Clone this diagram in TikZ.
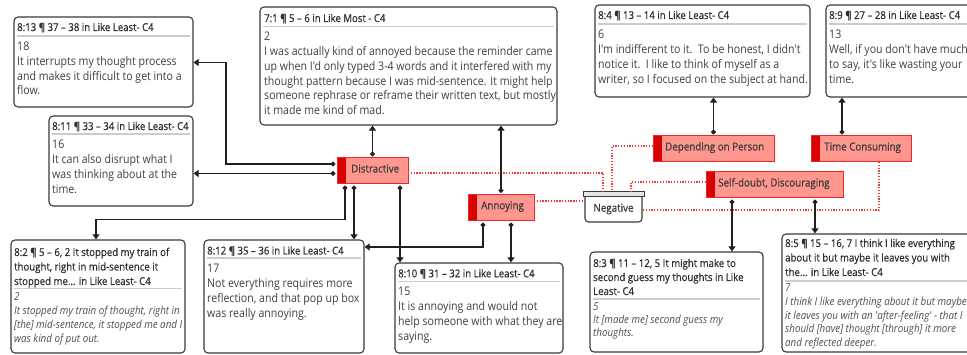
\documentclass[tikz,border=0pt]{standalone}
\usepackage{fontspec}
\setmainfont{Open Sans}[FakeStretch=0.89, Ligatures=TeXOff]
\newfontfamily\hdfont{Open Sans}[FakeStretch=0.89, FakeBold=0.6, Ligatures=TeXOff]
\usetikzlibrary{calc,arrows.meta}

\definecolor{boxline}{HTML}{3A3A3A}
\definecolor{sepline}{HTML}{CCCCCC}
\definecolor{bodytxt}{HTML}{404040}
\definecolor{hdtxt}{HTML}{303030}
\definecolor{quotetxt}{HTML}{4E4E4E}
\definecolor{codefill}{HTML}{FF978E}
\definecolor{codeline}{HTML}{E8282D}
\definecolor{codebar}{HTML}{D80000}
\definecolor{codetext}{HTML}{3C3C3C}
\definecolor{linkred}{HTML}{F03C3C}
\definecolor{capgray}{HTML}{E6E6E6}
\definecolor{connblack}{HTML}{202020}

% one text node per line, baselines evenly spaced
\newcommand\textlines[6]{%
  \foreach \t [count=\i] in {#6} {
    \node[#5] (#1-\i) at (#2,{#3+(\i-1)*#4}) {\t};
  }}
% grey rule under a quotation header, #2 below the top edge
\newcommand\qrule[2]{\draw[sepln] ($(#1.north west)+(3,#2)$) -- ($(#1.north east)+(-3,#2)$);}

\tikzset{
  qbox/.style={draw=boxline, line width=1.1pt, rounded corners=4pt, fill=white,
    inner sep=0pt, outer sep=0pt, anchor=north west},
  hd/.style={font=\hdfont\fontsize{10.8}{13}\selectfont, text=hdtxt, inner sep=0pt, anchor=base west},
  body/.style={font=\fontsize{11.9}{14}\selectfont, text=bodytxt, inner sep=0pt, anchor=base west},
  quote/.style={font=\itshape\fontsize{11}{13}\selectfont, text=quotetxt, inner sep=0pt, anchor=base west},
  sepln/.style={draw=sepline, line width=1.4pt},
  code/.style={rectangle, draw=codeline, line width=1pt, fill=codefill, inner sep=0pt,
    outer sep=0pt, anchor=north west, minimum height=26pt,
    path picture={\fill[codebar] (path picture bounding box.north west)
      rectangle ([xshift=9pt]path picture bounding box.south west);}},
  codetxt/.style={font=\hdfont\fontsize{11}{13}\selectfont, text=codetext, inner sep=0pt, anchor=base west},
  conn/.style={draw=connblack, line width=1.1pt, shorten >=0.6pt,
    {Circle[length=5pt,width=5pt]}-{Triangle[length=5pt,width=7pt]}},
  link/.style={draw=linkred, line width=1.1pt, dash pattern=on 1.3pt off 1.5pt},
}

\begin{document}
\begin{tikzpicture}[x=1pt,y=-1pt]
\useasboundingbox (0,0) rectangle (967,355);
\fill[white] (0,0) rectangle (967,355);
\clip (0,0) rectangle (967,355);

% ---------- quotation boxes ----------
\node[qbox, minimum width=179pt, minimum height=90pt] (qA) at (14,17) {};
\node[hd] (qA-h) at (17,31) {8:13 ¶ 37 – 38 in Like Least- C4};
\qrule{qA}{19}
\textlines{qA-b}{17}{50.5}{14.8}{body}{{18},{It interrupts my thought process},{and makes it difficult to get into a},{flow.}}

\node[qbox, minimum width=297pt, minimum height=118pt] (qB) at (260,7) {};
\node[hd] (qB-h) at (264,22) {7:1 ¶ 5 – 6 in Like Most - C4};
\qrule{qB}{19.5}
\textlines{qB-b}{264}{41}{14.7}{body}{{2},{I was actually kind of annoyed because the reminder came},{up when I'd only typed 3-4 words and it interfered with my},{thought pattern because I was mid-sentence. It might help},{someone rephrase or reframe their written text, but mostly},{it made me kind of mad.}}

\node[qbox, minimum width=215pt, minimum height=92pt] (qC) at (595,5) {};
\node[hd] (qC-h) at (598,19) {8:4 ¶ 13 – 14 in Like Least- C4};
\qrule{qC}{19}
\textlines{qC-b}{598}{39}{14.7}{body}{{6},{I'm indifferent to it.\ \ To be honest, I didn't},{notice it.\ \ I like to think of myself as a},{writer, so I focused on the subject at hand.}}

\node[qbox, minimum width=180pt, minimum height=92pt] (qD) at (826,5) {};
\node[hd] (qD-h) at (829,19) {8:9 ¶ 27 – 28 in Like Least- C4};
\qrule{qD}{19}
\textlines{qD-b}{829}{39}{14.7}{body}{{13},{Well, if you don't have much},{to say, it's like wasting your},{time.}}

\node[qbox, minimum width=144pt, minimum height=90pt] (qE) at (49,116) {};
\node[hd] (qE-h) at (52,130) {8:11 ¶ 33 – 34 in Like Least- C4};
\qrule{qE}{18}
\textlines{qE-b}{52}{149}{14.8}{body}{{16},{It can also disrupt what I},{was thinking about at the},{time.}}

\node[qbox, minimum width=174pt, minimum height=113pt] (qF) at (11,240) {};
\textlines{qF-h}{14}{256}{14.5}{hd}{{8:2 ¶ 5 – 6, 2 It stopped my train of},{thought, right in mid-sentence it},{stopped me.{}.{}. in Like Least- C4}}
\qrule{qF}{48.5}
\textlines{qF-b}{14}{301}{14}{quote}{{2},{It stopped my train of thought, right in},{[the] mid-sentence, it stopped me and I},{was kind of put out.}}

\node[qbox, minimum width=160pt, minimum height=113pt] (qG) at (204,240) {};
\node[hd] (qG-h) at (207,254.5) {8:12 ¶ 35 – 36 in Like Least- C4};
\qrule{qG}{18}
\textlines{qG-b}{207}{272.5}{14.9}{body}{{17},{Not everything requires more},{reflection, and that pop up box},{was really annoying.}}

\node[qbox, minimum width=168pt, minimum height=90pt] (qH) at (395,263) {};
\node[hd] (qH-h) at (398,277.3) {8:10 ¶ 31 – 32 in Like Least- C4};
\qrule{qH}{18.5}
\textlines{qH-b}{398}{296}{14.8}{body}{{15},{It is annoying and would not},{help someone with what they are},{saying.}}

\node[qbox, minimum width=173pt, minimum height=100pt] (qI) at (590,252) {};
\textlines{qI-h}{593}{267}{14}{hd}{{8:3 ¶ 11 – 12, 5 It might make to},{second guess my thoughts in Like},{Least- C4}}
\qrule{qI}{47}
\textlines{qI-b}{593}{311}{13}{quote}{{5},{It [made me] second guess my},{thoughts.}}

\node[qbox, minimum width=220pt, minimum height=118pt] (qJ) at (782,234) {};
\textlines{qJ-h}{785}{247}{14.5}{hd}{{8:5 ¶ 15 – 16, 7 I think I like everything},{about it but maybe it leaves you with},{the.{}.{}. in Like Least- C4}}
\qrule{qJ}{47}
\textlines{qJ-b}{785}{292}{13.6}{quote}{{7},{I think I like everything about it but maybe},{it leaves you with an 'after-feeling' - that I},{should [have] thought [through] it more},{and reflected deeper.}}

% ---------- codes ----------
\node[code, minimum width=71pt] (dist) at (337,158) {};
\node[codetxt] (dist-t) at ($(dist.west)+(14,1.5)$) {Distractive};
\node[code, minimum width=66pt, minimum height=26.5pt] (ann) at (468,194.5) {};
\node[codetxt] (ann-t) at ($(ann.west)+(13,1.5)$) {Annoying};
\node[code, minimum width=121pt] (dep) at (653,136) {};
\node[codetxt] (dep-t) at ($(dep.west)+(12,1.5)$) {Depending on Person};
\node[code, minimum width=100pt] (tc) at (811,136) {};
\node[codetxt] (tc-t) at ($(tc.west)+(13,1.5)$) {Time Consuming};
\node[code, minimum width=137pt] (sd) at (706,172) {};
\node[codetxt] (sd-t) at ($(sd.west)+(12,1.5)$) {Self-doubt, Discouraging};

% ---------- code group ----------
\node[minimum width=57pt, minimum height=26pt, inner sep=0pt, outer sep=0pt, anchor=north west,
  font=\hdfont\fontsize{11}{13}\selectfont, text=codetext] (neg) at (585,196) {Negative};
\draw[boxline, line width=1.1pt, rounded corners=3.5pt]
  (neg.north west) -- (neg.south west) -- (neg.south east) -- (neg.north east);
\node[draw=boxline, line width=0.9pt, fill=capgray, minimum width=61pt, minimum height=4.5pt,
  inner sep=0pt, outer sep=0pt, anchor=south] (negcap) at (neg.north) {};

% ---------- links from codes to the group ----------
\draw[link] ($(dist.north east)+(0,15)$) -| ($(negcap.north west)+(20,0)$);
\draw[link] ($(ann.north east)+(0,6.5)$) -- ($(neg.north west)+(0,5)$);
\draw[link] ($(dep.north west)+(0,10)$) -| ($(negcap.north west)+(29,0)$);
\draw[link] ($(sd.north west)+(0,10)$) -| ($(negcap.north west)+(48,0)$);
\draw[link] ($(tc.south west)+(68,0)$) |- ($(neg.north east)+(0,14)$);

% ---------- connectors from codes to quotations ----------
\coordinate (dA) at ($(dist.north west)+(-1.5,6)$);
\coordinate (kA) at (226,62.5);
\draw[conn] (dA) -| (kA) -- (kA -| qA.east);
\coordinate (dE) at ($(dist.north west)+(-1.5,15.5)$);
\draw[conn] (dE) -- (dE -| qE.east);
\coordinate (dB) at ($(dist.north)+(0,-1.5)$);
\draw[conn] (dB) -- (dB |- qB.south);
\coordinate (aB) at ($(ann.north)+(0,-1.5)$);
\draw[conn] (aB) -- (aB |- qB.south);
\coordinate (dF) at ($(dist.south west)+(8,1.5)$);
\draw[conn] (dF) |- ($(qF.north)+(-2,-20.5)$) -- ($(qF.north)+(-2,0)$);
\coordinate (dG) at ($(dist.south west)+(17,1.5)$);
\draw[conn] (dG) -- (dG |- qG.north);
\coordinate (dH) at ($(dist.south west)+(63,1.5)$);
\draw[conn] (dH) -- (dH |- qH.north);
\coordinate (aG) at ($(ann.south west)+(15,1.5)$);
\draw[conn] (aG) |- ($(qG.north east)+(0,7)$);
\coordinate (aH) at ($(ann.south west)+(43,1.5)$);
\draw[conn] (aH) -- (aH |- qH.north);
\coordinate (pC) at ($(dep.north)+(0,-1.5)$);
\draw[conn] (pC) -- (pC |- qC.south);
\coordinate (tD) at ($(tc.north west)+(31,-1.5)$);
\draw[conn] (tD) -- (tD |- qD.south);
\coordinate (sI) at ($(sd.south west)+(26,1.5)$);
\draw[conn] (sI) -- (sI |- qI.north);
\coordinate (sJ) at ($(sd.south west)+(109,1.5)$);
\draw[conn] (sJ) -- (sJ |- qJ.north);
\end{tikzpicture}
\end{document}
